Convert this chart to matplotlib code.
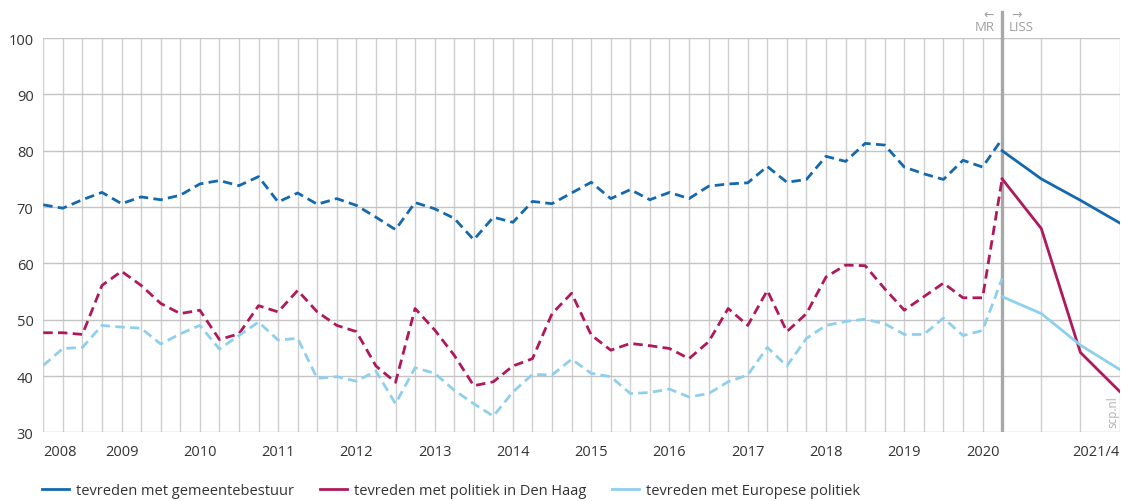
import matplotlib
matplotlib.use("Agg")
import matplotlib.pyplot as plt

plt.rcParams["font.family"] = ["Open Sans", "DejaVu Sans"]

# quarter index: 0 = 2008 Q1 ... 49 = 2020 Q2 (MR), LISS every half year to 2021/4
mr_x = list(range(50))
liss_x = [49, 51, 53, 55]

gemeente_mr = [70.4, 69.8, 71.3, 72.6, 70.6, 71.8, 71.3, 72.1, 74.1, 74.7,
               73.8, 75.4, 70.9, 72.5, 70.5, 71.5, 70.3, 68.2, 66.0, 70.8,
               69.7, 68.0, 64.2, 68.2, 67.3, 71.0, 70.6, 72.5, 74.4, 71.5,
               73.1, 71.3, 72.6, 71.5, 73.7, 74.1, 74.3, 77.2, 74.4, 74.9,
               79.0, 78.1, 81.3, 81.0, 77.1, 75.9, 74.9, 78.3, 77.1, 82.1]
denhaag_mr = [47.7, 47.7, 47.4, 56.1, 58.6, 56.1, 52.9, 51.1, 51.7, 46.5,
              47.5, 52.5, 51.4, 55.2, 51.4, 49.0, 47.9, 41.8, 38.9, 52.0,
              48.2, 43.7, 38.3, 39.0, 41.8, 43.1, 51.1, 54.7, 47.3, 44.6,
              45.8, 45.4, 44.9, 43.1, 46.1, 52.0, 49.0, 55.2, 47.9, 51.1,
              57.6, 59.7, 59.6, 55.5, 51.7, 54.1, 56.5, 53.9, 53.9, 75.0]
europa_mr = [41.9, 44.9, 45.1, 49.0, 48.7, 48.5, 45.7, 47.5, 49.0, 44.8,
             47.2, 49.6, 46.4, 46.7, 39.6, 39.9, 39.1, 40.9, 35.1, 41.5,
             40.5, 37.5, 35.1, 32.9, 37.2, 40.3, 40.2, 43.0, 40.5, 39.9,
             36.9, 37.1, 37.7, 36.3, 36.9, 39.0, 40.2, 45.1, 41.8, 46.7,
             49.0, 49.7, 50.1, 49.3, 47.4, 47.4, 50.3, 47.2, 48.1, 57.3]

gemeente_liss = [80.0, 75.0, 71.2, 67.2]
denhaag_liss = [75.0, 66.2, 44.2, 37.3]
europa_liss = [54.1, 51.1, 45.5, 41.2]

labels = ["tevreden met gemeentebestuur", "tevreden met politiek in Den Haag",
          "tevreden met Europese politiek"]
colors = ["#1468ad", "#b0185c", "#8fcfee"]

year_ticks = list(range(0, 49, 4)) + [55]
year_labels = [str(y) for y in range(2008, 2021)] + ["2021/4"]
grid_x = list(range(50)) + [51, 53, 55]

fig = plt.figure(figsize=(11.21, 5.02), dpi=100)
ax = fig.add_axes([0.0386, 0.1365, 0.9601, 0.7858])

for mr, liss, c, lab in zip([gemeente_mr, denhaag_mr, europa_mr],
                            [gemeente_liss, denhaag_liss, europa_liss],
                            colors, labels):
    ax.plot(mr_x, mr, color=c, lw=2.0, dashes=(3.4, 1.9), zorder=3,
            solid_capstyle="butt", dash_capstyle="butt")
    ax.plot(liss_x, liss, color=c, lw=2.0, zorder=3, label=lab)

ax.set_xlim(0, 55)
ax.set_ylim(30, 100)

for gx in grid_x:
    ax.axvline(gx, color="#cfcfcf", lw=1.0, zorder=1)
for gy in range(30, 101, 10):
    ax.axhline(gy, color="#c4c4c4", lw=1.0, zorder=1)

# MR / LISS break
ax.axvline(49, color="#a8a8a8", lw=2.4, zorder=2)
ax.plot([49, 49], [100, 104.6], color="#a8a8a8", lw=2.4, clip_on=False)
ax.text(48.6, 101.45, "MR", ha="right", va="baseline", fontsize=9.5, color="#a0a0a0")
ax.text(49.35, 101.45, "LISS", ha="left", va="baseline", fontsize=9.5, color="#a0a0a0")
ax.text(48.3, 104.2, "\u2190", ha="center", va="center", fontsize=9, color="#a0a0a0",
        family="DejaVu Sans")
ax.text(49.75, 104.2, "\u2192", ha="center", va="center", fontsize=9, color="#a0a0a0",
        family="DejaVu Sans")

ax.text(54.65, 31.0, "scp.nl", rotation=90, ha="center", va="bottom",
        fontsize=8.5, color="#b0b0b0")

for s in ax.spines.values():
    s.set_visible(False)

ax.set_yticks(range(30, 101, 10))
ax.set_xticks(year_ticks)
ax.set_xticklabels(year_labels)
ax.tick_params(length=0, labelsize=10.5, labelcolor="#333333")
ax.tick_params(axis="x", pad=8)
ax.tick_params(axis="y", pad=7)
xl = ax.get_xticklabels()
xl[0].set_ha("left")
xl[-1].set_ha("right")

fig.legend(loc="lower left", bbox_to_anchor=(0.026, -0.02), ncol=3, frameon=False,
           fontsize=10.5, handlelength=1.85, handletextpad=0.45, columnspacing=1.8,
           labelcolor="#333333")

fig.savefig("out.png", dpi=100)
